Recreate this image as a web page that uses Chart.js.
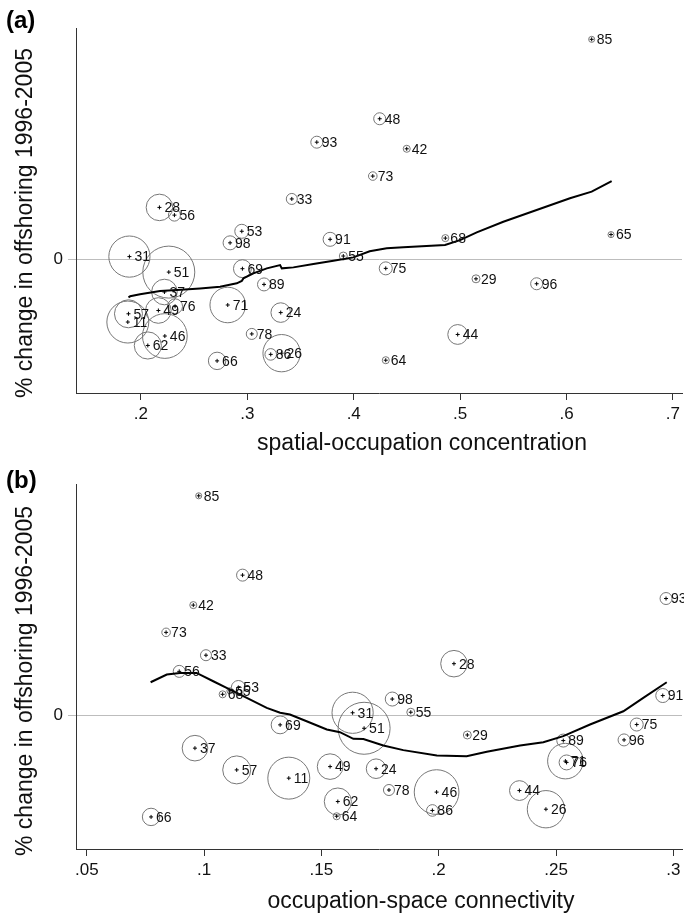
<!DOCTYPE html>
<html>
<head>
<meta charset="utf-8">
<script src="https://cdn.jsdelivr.net/npm/chart.js@4/dist/chart.umd.min.js"></script>
<style>
  html, body { margin: 0; padding: 0; background: #fff; }
  #wrap { position: relative; width: 684px; height: 917px; overflow: hidden;
          font-family: "Liberation Sans", Arial, Helvetica, sans-serif; color: #111; }
  .panel { position: absolute; left: 0; width: 684px; height: 458px; }
  .tag { position: absolute; left: 6px; font-weight: bold; font-size: 24px; color: #000; line-height: 27px; }
  .xt { position: absolute; font-size: 23px; line-height: 26px; white-space: nowrap; transform: translate(-50%, -50%); }
  .yt { position: absolute; font-size: 23px; line-height: 26px; white-space: nowrap;
        transform: translate(-50%, -50%) rotate(-90deg); }
</style>
</head>
<body>
<div id="wrap">
  <div class="panel" style="top:0"><canvas id="chartA" width="684" height="458"></canvas></div>
  <div class="panel" style="top:458px"><canvas id="chartB" width="684" height="458"></canvas></div>
  <div class="tag" style="top:6px">(a)</div>
  <div class="tag" style="top:466px">(b)</div>
  <div class="yt" style="left:24px; top:223px">% change in offshoring 1996-2005</div>
  <div class="yt" style="left:24px; top:681px">% change in offshoring 1996-2005</div>
  <div class="xt" style="left:422px; top:442px">spatial-occupation concentration</div>
  <div class="xt" style="left:421px; top:900px">occupation-space connectivity</div>
</div>
<script>
// Occupation codes and their change in offshoring, 1996-2005 (%)
const occupations = ['85','48','93','42','73','33','28','56','53','98','91','65','68','31','55','69','75','51',
  '29','96','89','37','71','76','49','24','57','11','78','44','46','62','26','86','64','66'];
const offshoringChange = [200.0, 127.8, 106.5, 100.5, 75.7, 54.9, 47.2, 40.2, 25.5, 15.0, 18.2, 22.5, 19.3, 2.5, 3.0,
  -8.5, -8.2, -11.6, -17.7, -22.2, -22.8, -29.7, -41.5, -42.7, -46.5, -48.4, -49.5, -57.0, -67.8, -68.3, -69.7,
  -78.3, -85.3, -86.4, -91.7, -92.3];
// Employment weight of each occupation (drives bubble area)
const employmentWeight = [2.3, 9, 9, 3.1, 4.6, 7.6, 44, 9, 12.3, 12.3, 12.3, 2.3, 3.1, 106, 4, 20, 10.6, 169,
  4, 9, 10.6, 41, 79, 14, 41, 24, 49, 110, 7.6, 24.5, 125, 46, 87, 8.4, 3.1, 19];
// Panel (a): spatial-occupation concentration
const spatialConcentration = [0.6236, 0.4244, 0.3653, 0.4498, 0.4179, 0.3418, 0.2174, 0.2315, 0.2948, 0.2838,
  0.3778, 0.6418, 0.4861, 0.1892, 0.3902, 0.2954, 0.4301, 0.2262, 0.5149, 0.5719, 0.3157, 0.2221, 0.2816,
  0.2321, 0.2164, 0.3314, 0.1883, 0.1877, 0.3042, 0.4977, 0.2225, 0.2065, 0.3322, 0.3220, 0.4301, 0.2716];
// Panel (b): occupation-space connectivity
const spaceConnectivity = [0.0977, 0.1164, 0.2969, 0.0954, 0.0838, 0.1008, 0.2065, 0.0894, 0.1146, 0.1802,
  0.2955, 0.1110, 0.1079, 0.1633, 0.1881, 0.1324, 0.2844, 0.1682, 0.2122, 0.2790, 0.2531, 0.0961, 0.2540,
  0.2545, 0.1537, 0.1733, 0.1139, 0.1361, 0.1788, 0.2344, 0.1991, 0.1570, 0.2457, 0.1973, 0.1565, 0.0774];

// Lowess smooth, panel (a)
const lowessConcX = [0.1883, 0.1899, 0.1992, 0.2180, 0.2337, 0.2556, 0.2744, 0.2901, 0.2948, 0.2963, 0.3057,
  0.3183, 0.3308, 0.3324, 0.3433, 0.3621, 0.3809, 0.3996, 0.4150, 0.4310, 0.4466, 0.4858, 0.4999, 0.5156,
  0.5406, 0.5719, 0.6032, 0.6236, 0.6424];
const lowessConcY = [-34.5, -33.6, -31.8, -28.8, -27.9, -26.4, -24.9, -21.8, -19.7, -17.3, -12.7,
  -8.2, -5.2, -8.2, -7.3, -4.3, -1.3, 1.8, 7.3, 10.0, 10.9, 13.0, 17.5, 24.5,
  34.2, 44.8, 55.5, 61.5, 71.2];
// Lowess smooth, panel (b)
const lowessConnX = [0.0772, 0.0841, 0.0897, 0.0968, 0.1039, 0.1096, 0.1182, 0.1267, 0.1324, 0.1366, 0.1437,
  0.1523, 0.1579, 0.1636, 0.1679, 0.1764, 0.1849, 0.1992, 0.2119, 0.2205, 0.2347, 0.2446, 0.2531, 0.2645,
  0.2787, 0.2872, 0.2972];
const lowessConnY = [30.3, 37.3, 38.8, 38.8, 31.2, 25.2, 16.1, 7.0, 2.5, 0.9, -5.2,
  -12.7, -15.2, -21.2, -21.4, -27.3, -31.5, -36.4, -37.0, -33.0, -27.3, -24.3, -18.8, -8.2,
  3.9, 16.1, 30.3];

// Axis ticks
const concTicks = [0.2, 0.3, 0.4, 0.5, 0.6, 0.7];
const concTickLabels = ['.2', '.3', '.4', '.5', '.6', '.7'];
const connTicks = [0.05, 0.1, 0.15, 0.2, 0.25, 0.3];
const connTickLabels = ['.05', '.1', '.15', '.2', '.25', '.3'];
const yTicks = [0];
const yTickLabels = ['0'];

const FONT = '"Liberation Sans", Arial, Helvetica, sans-serif';

// Writes each occupation code to the right of its bubble centre
const codeLabels = {
  id: 'codeLabels',
  afterDatasetsDraw(chart) {
    const meta = chart.getDatasetMeta(0);
    const ctx = chart.ctx;
    ctx.save();
    ctx.font = '14px ' + FONT;
    ctx.fillStyle = '#111';
    ctx.textAlign = 'left';
    ctx.textBaseline = 'middle';
    meta.data.forEach((el, i) => ctx.fillText(occupations[i], el.x + 5, el.y + 1));
    ctx.restore();
  }
};

function buildPanel(canvasId, xs, lowX, lowY, xRange, ticks, tickLabels, topPad, xAxisHeight) {
  const bubbles = xs.map((x, i) => ({ x, y: offshoringChange[i], r: 2 * Math.sqrt(employmentWeight[i]) }));
  const centres = xs.map((x, i) => ({ x, y: offshoringChange[i] }));
  const smooth = lowX.map((x, i) => ({ x, y: lowY[i] }));
  return new Chart(document.getElementById(canvasId), {
    type: 'scatter',
    data: {
      datasets: [
        { type: 'bubble', data: bubbles, borderColor: '#777', borderWidth: 1,
          backgroundColor: 'rgba(0,0,0,0)', hoverRadius: 0, order: 3, clip: false },
        { type: 'scatter', data: centres, pointStyle: 'cross', pointRadius: 2, borderColor: '#000',
          borderWidth: 1, backgroundColor: '#000', order: 2 },
        { type: 'line', data: smooth, borderColor: '#000', borderWidth: 2, pointRadius: 0,
          tension: 0, fill: false, order: 1 }
      ]
    },
    options: {
      responsive: false,
      animation: false,
      devicePixelRatio: 1,
      events: [],
      layout: { autoPadding: false, padding: { top: topPad, right: 2, left: 0, bottom: 0 } },
      plugins: { legend: { display: false }, tooltip: { enabled: false } },
      scales: {
        x: {
          type: 'linear', min: xRange[0], max: xRange[1],
          afterBuildTicks: s => { s.ticks = ticks.map(v => ({ value: v })); },
          afterFit: s => { s.height = xAxisHeight; s.paddingLeft = 0; s.paddingRight = 0; },
          ticks: { callback: (v, i) => tickLabels[i], font: { size: 17, family: FONT }, color: '#111',
            padding: 4, maxRotation: 0, autoSkip: false },
          grid: { drawOnChartArea: false, drawTicks: true, tickLength: 7, color: '#333', lineWidth: 1 },
          border: { display: true, color: '#333', width: 1 },
          title: { display: false }
        },
        y: {
          type: 'linear', min: -121.5, max: 210.3,
          afterBuildTicks: s => { s.ticks = yTicks.map(v => ({ value: v })); },
          afterFit: s => { s.width = 76; s.paddingTop = 0; s.paddingBottom = 0; },
          ticks: { callback: (v, i) => yTickLabels[i], font: { size: 17, family: FONT }, color: '#111', padding: 5 },
          grid: { drawOnChartArea: true, drawTicks: true, tickLength: 8, color: '#bdbdbd', lineWidth: 1 },
          border: { display: true, color: '#333', width: 1 },
          title: { display: false }
        }
      }
    },
    plugins: [codeLabels]
  });
}

buildPanel('chartA', spatialConcentration, lowessConcX, lowessConcY, [0.139, 0.7085],
  concTicks, concTickLabels, 28, 65);
buildPanel('chartB', spaceConnectivity, lowessConnX, lowessConnY, [0.0454, 0.3037],
  connTicks, connTickLabels, 26.5, 67);
</script>
</body>
</html>
